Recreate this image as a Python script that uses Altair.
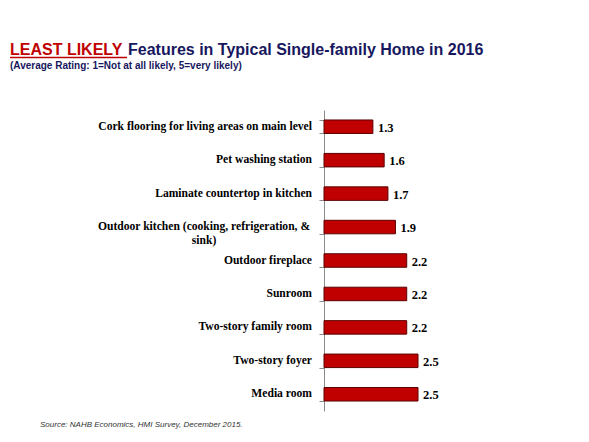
import altair as alt
import pandas as pd

features = [
    "Cork flooring for living areas on main level",
    "Pet washing station",
    "Laminate countertop in kitchen",
    "Outdoor kitchen (cooking, refrigeration, & sink)",
    "Outdoor fireplace",
    "Sunroom",
    "Two-story family room",
    "Two-story foyer",
    "Media room",
]
ratings = [1.3, 1.6, 1.7, 1.9, 2.2, 2.2, 2.2, 2.5, 2.5]
labels_single = [f for f in features if not f.startswith("Outdoor kitchen")]
label_two_line = ["Outdoor kitchen (cooking, refrigeration, &", "sink)"]

title_red = "LEAST LIKELY"
title_rest = "Features in Typical Single-family Home in 2016"
subtitle = "(Average Rating: 1=Not at all likely, 5=very likely)"
source = "Source:  NAHB Economics, HMI Survey,  December 2015."

df = pd.DataFrame({"feature": features, "rating": ratings, "lbl": [f"{v:.1f}" for v in ratings]})
df_single = pd.DataFrame({"feature": labels_single})
df_two = pd.DataFrame({"feature": [features[3]], "txt": [label_two_line]})

ysc = alt.Y("feature:N", sort=features, title=None,
            scale=alt.Scale(paddingInner=0.6, paddingOuter=0.3),
            axis=alt.Axis(labels=False, domainColor="#8c8c8c", tickColor="#8c8c8c",
                          tickSize=5, tickBand="extent", domainWidth=1, tickWidth=1,
                          grid=False, title=None))

bars = alt.Chart(df).mark_bar(color="#C00000", stroke="#5a0000", strokeWidth=1, size=13.5).encode(
    x=alt.X("rating:Q", scale=alt.Scale(domain=[0, 5]), axis=None),
    y=ysc,
)
vals = alt.Chart(df).mark_text(align="left", baseline="middle", dx=5, dy=1,
                               font="Liberation Serif", fontWeight="bold", fontSize=12.5,
                               color="#000000").encode(
    x="rating:Q", y=ysc, text="lbl:N")

lab1 = alt.Chart(df_single).mark_text(align="right", baseline="middle",
                                      font="Liberation Serif", fontWeight="bold", fontSize=11.6,
                                      color="#000000").encode(
    x=alt.value(-12), y=ysc, text="feature:N")
lab2 = alt.Chart(df_two).mark_text(align="center", baseline="middle", lineHeight=14,
                                   font="Liberation Serif", fontWeight="bold", fontSize=11.6,
                                   color="#000000").encode(
    x=alt.value(-120), y=ysc, text="txt")

def note(txt, x, y, **kw):
    return alt.Chart(pd.DataFrame({"t": [txt]})).mark_text(align="left", baseline="alphabetic", **kw).encode(
        x=alt.value(x), y=alt.value(y), text="t:N")

t1 = note(title_red, -314, -55, font="Liberation Sans", fontWeight="bold", fontSize=16, color="#C00000")
t2 = note(title_rest, -196, -55, font="Liberation Sans", fontWeight="bold", fontSize=16, color="#17175E")
t3 = note(subtitle, -314, -41, font="Liberation Sans", fontWeight="bold", fontSize=10, color="#17175E")
t4 = note(source, -284, 317, font="Liberation Sans", fontStyle="italic", fontSize=8, color="#333333")
underline = alt.Chart(pd.DataFrame({"a": [0]})).mark_rule(color="#C00000", strokeWidth=1.5).encode(
    x=alt.value(-314), x2=alt.value(-197), y=alt.value(-52.5))

chart = alt.layer(bars, vals, lab1, lab2, t1, t2, t3, t4, underline).properties(
    width=188, height=301,
    autosize=alt.AutoSizeParams(type="none"),
    padding={"left": 316, "top": 102, "right": 60, "bottom": 24},
    background="#ffffff",
).configure_view(stroke=None)

chart.save("out.html", embed_options={"renderer": "svg", "actions": False})
